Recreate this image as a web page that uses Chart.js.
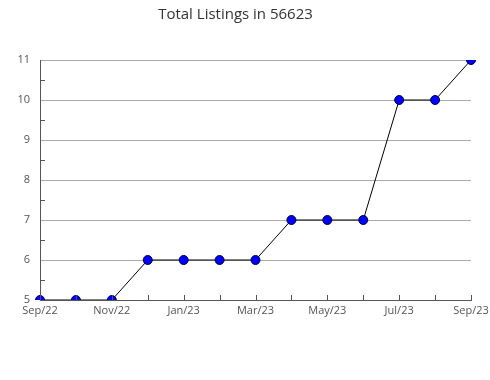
<!DOCTYPE html>
<html>
<head>
<meta charset="utf-8">
<script src="https://cdn.jsdelivr.net/npm/chart.js@4.4.0/dist/chart.umd.min.js"></script>
<style>
  body { margin: 0; background: #fff; }
  #wrap { width: 490px; height: 380px; }
</style>
</head>
<body>
<div id="wrap"><canvas id="mycanvas"></canvas></div>
<script>
var months = ["Sep/22", "Oct/22", "Nov/22", "Dec/22", "Jan/23", "Feb/23", "Mar/23",
              "Apr/23", "May/23", "Jun/23", "Jul/23", "Aug/23", "Sep/23"];
var listings = [5, 5, 5, 6, 6, 6, 6, 7, 7, 7, 10, 10, 11];
var yTicks = [5, 6, 7, 8, 9, 10, 11];

// small inward tick marks on both axes
var tickMarks = {
  id: "tickMarks",
  afterDraw: function(chart) {
    var ctx = chart.ctx;
    var x = chart.scales.x, y = chart.scales.y;
    ctx.save();
    ctx.strokeStyle = "#555";
    ctx.lineWidth = 1;
    ctx.beginPath();
    for (var i = 0; i < months.length; i++) {
      var px = Math.round(x.getPixelForValue(i)) + 0.5;
      ctx.moveTo(px, y.bottom);
      ctx.lineTo(px, y.bottom - 5);
    }
    for (var j = 0; j < yTicks.length - 1; j++) {
      var py = Math.round(y.getPixelForValue(yTicks[j] + 0.5)) + 0.5;
      ctx.moveTo(x.left, py);
      ctx.lineTo(x.left + 5, py);
    }
    ctx.stroke();
    ctx.restore();
  }
};

var ctx = document.getElementById("mycanvas");

new Chart(ctx, {
  type: "line",
  data: {
    labels: months,
    datasets: [{
      label: "Total Listings",
      data: listings,
      borderColor: "#000",
      borderWidth: 1,
      tension: 0,
      pointRadius: 4.5,
      pointHoverRadius: 4.5,
      pointBackgroundColor: "#0000ff",
      pointBorderColor: "#000040",
      pointBorderWidth: 1
    }]
  },
  options: {
    responsive: true,
    maintainAspectRatio: false,
    animation: false,
    layout: { padding: { left: 0, right: 19, top: 0, bottom: 0 } },
    plugins: {
      legend: { display: false },
      tooltip: { enabled: false },
      title: {
        display: true,
        text: "Total Listings in 56623",
        color: "#333",
        font: { family: "Open Sans", size: 15, weight: "normal" },
        padding: { top: 6, bottom: 36 }
      }
    },
    scales: {
      x: {
        offset: false,
        grid: { display: false, drawTicks: false },
        border: { display: true, color: "#555" },
        ticks: {
          autoSkip: false,
          maxRotation: 0,
          padding: 4,
          color: "#555",
          font: { family: "Open Sans", size: 11 },
          callback: function(v, i) { return i % 2 === 0 ? months[i] : ""; }
        },
        afterFit: function(s) {
          s.height = 80;
          s.paddingLeft = 0;
          s.paddingRight = 0;
        }
      },
      y: {
        min: 5,
        max: 11,
        grid: { color: "#aaa", drawTicks: false },
        border: { display: true, color: "#555" },
        ticks: {
          stepSize: 1,
          padding: 10,
          color: "#555",
          font: { family: "Open Sans", size: 11 }
        },
        afterFit: function(s) { s.width = 40; }
      }
    }
  },
  plugins: [tickMarks]
});
</script>
</body>
</html>
